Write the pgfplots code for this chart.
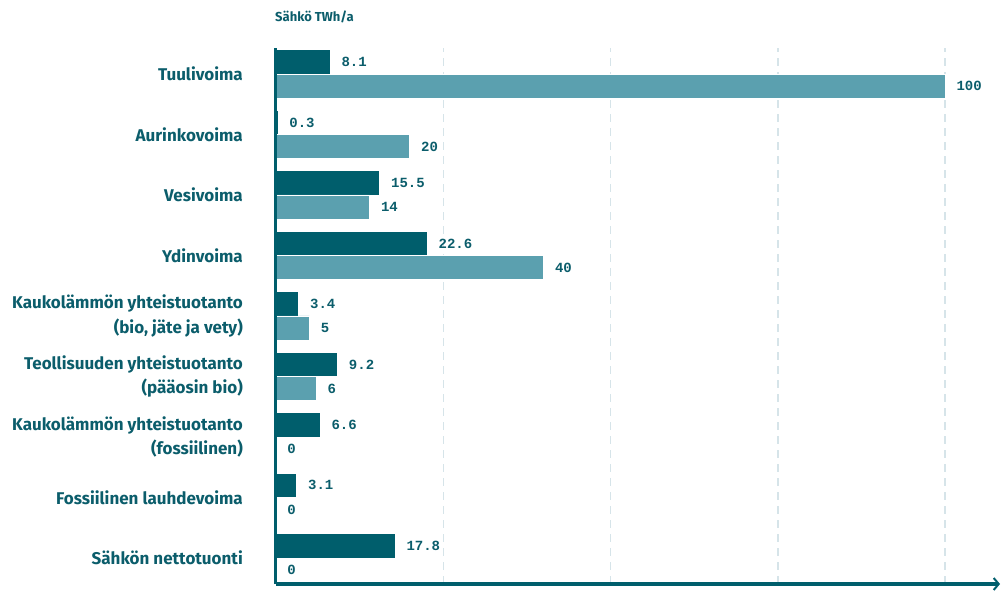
\documentclass[border=0pt]{standalone}
\usepackage{pgfplots}
\pgfplotsset{compat=1.18}
\usepackage{pgfplotstable}
\usetikzlibrary{arrows.meta}
\usepackage{fontspec}
\setmainfont{Fira Sans}
\setmonofont{Liberation Mono}
\definecolor{darkteal}{HTML}{005E6C}
\definecolor{lightteal}{HTML}{5BA0AF}
\definecolor{txtteal}{HTML}{0B5D6B}
\definecolor{gridc}{HTML}{D6E4E9}

\pgfplotstableread{
y  dark  dl    light  ll
8  8.1   8.1   100    100
7  0.3   0.3   20     20
6  15.5  15.5  14     14
5  22.6  22.6  40     40
4  3.4   3.4   5      5
3  9.2   9.2   6      6
2  6.6   6.6   0      0
1  3.1   3.1   0      0
0  17.8  17.8  0      0
}\datatable

\begin{document}
\begin{tikzpicture}
\useasboundingbox (-276bp,-8bp) rectangle (728bp,584bp);
\begin{axis}[
  at={(0,0)}, anchor=south west,
  scale only axis,
  width=724bp, height=536bp,
  xmin=0, xmax=108.2,
  ymin=-0.43, ymax=8.43,
  xbar, bar width=0.4,
  axis x line=bottom, axis y line=left,
  x axis line style={-{Straight Barb[length=5bp,width=12bp,line width=2bp]}, line width=3bp, darkteal},
  y axis line style={draw=none},
  xtick={25,50,75,100}, xticklabels={},
  xmajorgrids,
  major grid style={gridc, line width=1.5bp, dash pattern=on 8bp off 6bp},
  major tick length=0pt,
  ytick={0,...,8},
  yticklabels={
    {Sähkön nettotuonti},
    {Fossiilinen lauhdevoima},
    {Kaukolämmön yhteistuotanto\\(fossiilinen)},
    {Teollisuuden yhteistuotanto\\(pääosin bio)},
    {Kaukolämmön yhteistuotanto\\(bio, jäte ja vety)},
    {Ydinvoima},
    {Vesivoima},
    {Aurinkovoima},
    {Tuulivoima}},
  yticklabel style={align=right, anchor=east, inner sep=0pt, xshift=-33bp,
    font=\fontsize{17bp}{24.5bp}\selectfont\bfseries, text=txtteal},
  nodes near coords,
  point meta=explicit symbolic,
  every node near coord/.append style={anchor=west, inner sep=0pt, xshift=11bp,
    font=\fontsize{14bp}{14bp}\selectfont\ttfamily\bfseries, text=txtteal},
  clip=false,
]
\addplot[fill=darkteal, draw=white, line width=0.8bp, bar shift=0.2] table[x=dark, y=y, meta=dl] {\datatable};
\addplot[fill=lightteal, draw=white, line width=0.8bp, bar shift=-0.2] table[x=light, y=y, meta=ll] {\datatable};
\draw[darkteal, line width=3bp] (axis cs:0,-0.43) -- (axis cs:0,8.43);
\node[anchor=west, inner sep=0pt, text=txtteal, font=\fontsize{13bp}{13bp}\selectfont\bfseries]
  at (rel axis cs:0,1) [xshift=-1bp, yshift=31bp] {Sähkö TWh/a};
\end{axis}
\end{tikzpicture}
\end{document}
